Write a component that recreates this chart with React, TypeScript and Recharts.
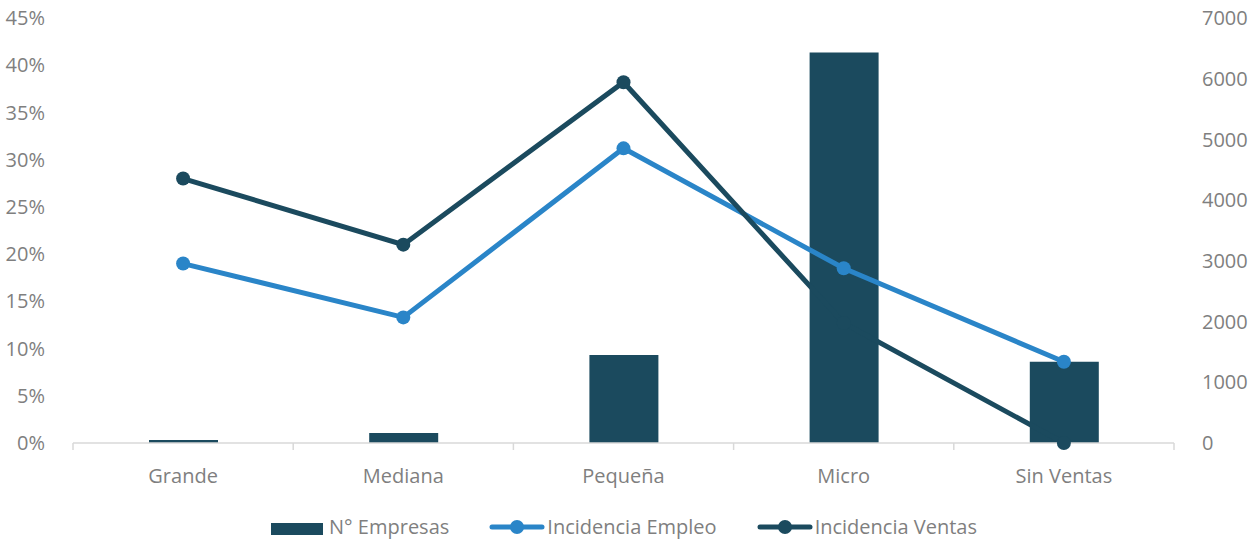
import React from 'react';
import { ComposedChart, Bar, Line, XAxis, YAxis } from 'recharts';

const categories = ['Grande', 'Mediana', 'Pequeña', 'Micro', 'Sin Ventas'];
const empresas = [50, 165, 1450, 6430, 1340];
const incidenciaEmpleo = [0.19, 0.133, 0.312, 0.185, 0.086];
const incidenciaVentas = [0.28, 0.21, 0.382, 0.127, 0.0];
const pctTicks = [0, 0.05, 0.1, 0.15, 0.2, 0.25, 0.3, 0.35, 0.4, 0.45];
const countTicks = [0, 1000, 2000, 3000, 4000, 5000, 6000, 7000];

const data = categories.map((name, i) => ({
  name,
  empresas: empresas[i],
  empleo: incidenciaEmpleo[i],
  ventas: incidenciaVentas[i],
}));

const DARK = '#1b4a5e';
const BLUE = '#2a85c8';
const GRAY = '#7f7f7f';
const FONT = 'Open Sans';
const BAND = 220.2;

const CategoryTick = (props: any) => {
  const { x, y, payload, index } = props;
  return (
    <g>
      <line x1={x - BAND / 2} x2={x - BAND / 2} y1={y - 8} y2={y - 1} stroke="#d9d9d9" strokeWidth={1.5} />
      {index === categories.length - 1 && (
        <line x1={x + BAND / 2} x2={x + BAND / 2} y1={y - 8} y2={y - 1} stroke="#d9d9d9" strokeWidth={1.5} />
      )}
      <text x={x} y={y + 32} textAnchor="middle" fill={GRAY} fontFamily={FONT} fontSize={20}>
        {payload.value}
      </text>
    </g>
  );
};

const LegendItem: React.FC<{ kind: 'bar' | 'line'; color: string; label: string }> = ({ kind, color, label }) => (
  <div style={{ display: 'flex', alignItems: 'center', marginRight: 40 }}>
    {kind === 'bar' ? (
      <div style={{ width: 52, height: 12, background: color, marginRight: 6, marginTop: 4 }} />
    ) : (
      <svg width={56} height={18} style={{ marginRight: 2 }}>
        <line x1={3} x2={53} y1={9} y2={9} stroke={color} strokeWidth={5} strokeLinecap="round" />
        <circle cx={28} cy={9} r={7} fill={color} />
      </svg>
    )}
    <span style={{ color: GRAY, fontFamily: FONT, fontSize: 20, lineHeight: '20px' }}>{label}</span>
  </div>
);

export default function App() {
  return (
    <div style={{ position: 'fixed', top: 0, left: 0, width: 1254, height: 541, background: '#fff' }}>
      <ComposedChart width={1254} height={541} data={data} margin={{ top: 18, right: 0, left: 0, bottom: 53 }}>
        <XAxis
          dataKey="name"
          axisLine={{ stroke: '#d9d9d9', strokeWidth: 1.5 }}
          tickLine={false}
          tick={<CategoryTick />}
          height={45}
          interval={0}
        />
        <YAxis
          yAxisId="pct"
          orientation="left"
          width={73}
          domain={[0, 0.45]}
          ticks={pctTicks}
          tickFormatter={(v: number) => `${Math.round(v * 100)}%`}
          axisLine={false}
          tickLine={false}
          tick={{ fill: GRAY, fontFamily: FONT, fontSize: 20 }}
          tickMargin={22}
        />
        <YAxis
          yAxisId="count"
          orientation="right"
          width={80}
          domain={[0, 7000]}
          ticks={countTicks}
          axisLine={false}
          tickLine={false}
          tick={{ fill: GRAY, fontFamily: FONT, fontSize: 20, textAnchor: 'start' }}
          tickMargin={22}
        />
        <Bar yAxisId="count" dataKey="empresas" fill={DARK} barSize={69} isAnimationActive={false} />
        <Line
          yAxisId="pct"
          dataKey="empleo"
          stroke={BLUE}
          strokeWidth={5}
          dot={{ r: 7, fill: BLUE, stroke: BLUE, strokeWidth: 0 }}
          activeDot={false}
          isAnimationActive={false}
        />
        <Line
          yAxisId="pct"
          dataKey="ventas"
          stroke={DARK}
          strokeWidth={5}
          dot={{ r: 7, fill: DARK, stroke: DARK, strokeWidth: 0 }}
          activeDot={false}
          isAnimationActive={false}
        />
      </ComposedChart>
      <div
        style={{
          position: 'absolute',
          top: 517,
          left: 0,
          width: 1254,
          display: 'flex',
          justifyContent: 'center',
          paddingLeft: 34,
          boxSizing: 'border-box',
        }}
      >
        <LegendItem kind="bar" color={DARK} label="N° Empresas" />
        <LegendItem kind="line" color={BLUE} label="Incidencia Empleo" />
        <LegendItem kind="line" color={DARK} label="Incidencia Ventas" />
      </div>
    </div>
  );
}
